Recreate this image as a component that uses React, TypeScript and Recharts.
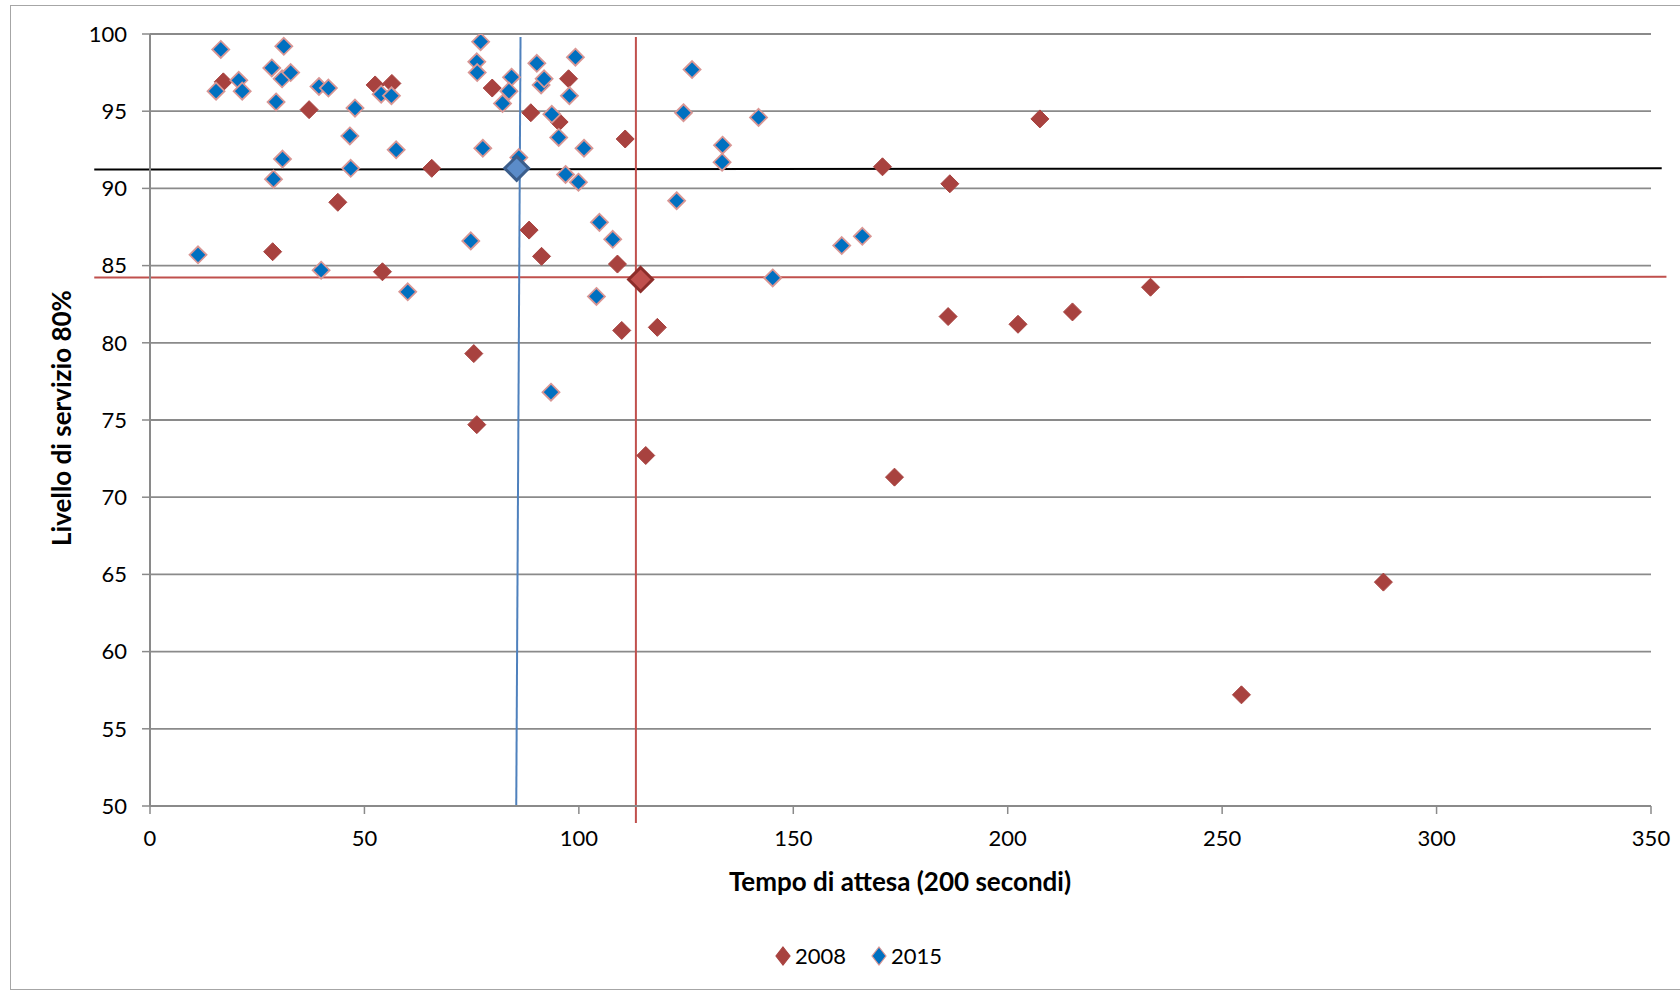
import { ScatterChart, Scatter, XAxis, YAxis, CartesianGrid, ReferenceLine, Label } from 'recharts';

// 2008 – tempo di attesa (x) e livello di servizio (y)
const tempo2008 = [17.1, 37.1, 43.8, 28.6, 52.5, 56.4, 54.2, 65.7, 75.5, 76.2, 79.8, 88.8, 88.4, 91.3, 95.4, 97.6,
  109.0, 110.0, 110.8, 118.3, 115.6, 170.8, 186.5, 207.5, 186.1, 202.4, 215.1, 233.3, 173.6, 287.6, 254.5];
const livello2008 = [96.9, 95.1, 89.1, 85.9, 96.7, 96.8, 84.6, 91.3, 79.3, 74.7, 96.5, 94.9, 87.3, 85.6, 94.3, 97.1,
  85.1, 80.8, 93.2, 81.0, 72.7, 91.4, 90.3, 94.5, 81.7, 81.2, 82.0, 83.6, 71.3, 64.5, 57.2];

// 2015
const tempo2015 = [16.5, 31.2, 20.7, 15.4, 21.5, 28.4, 30.8, 32.8, 29.4, 39.4, 41.6, 47.8, 46.6, 30.9, 28.8, 46.8,
  57.4, 53.9, 56.3, 77.1, 76.2, 76.3, 84.3, 83.7, 82.2, 90.2, 91.2, 91.9, 99.2, 97.8, 93.7, 95.3, 101.2, 77.6,
  86.0, 96.9, 99.9, 126.4, 124.4, 141.9, 133.5, 133.4, 122.8, 104.8, 107.9, 74.8, 104.1, 145.2, 60.1, 11.2,
  39.9, 93.5, 161.3, 166.1];
const livello2015 = [99.0, 99.2, 97.0, 96.3, 96.3, 97.8, 97.1, 97.5, 95.6, 96.6, 96.5, 95.2, 93.4, 91.9, 90.6, 91.3,
  92.5, 96.1, 96.0, 99.5, 98.2, 97.5, 97.2, 96.3, 95.5, 98.1, 96.7, 97.1, 98.5, 96.0, 94.8, 93.3, 92.6, 92.6,
  92.0, 90.9, 90.4, 97.7, 94.9, 94.6, 92.8, 91.7, 89.2, 87.8, 86.7, 86.6, 83.0, 84.2, 83.3, 85.7,
  84.7, 76.8, 86.3, 86.9];

// medie
const media2008 = [{ x: 114.4, y: 84.1 }];
const media2015 = [{ x: 85.5, y: 91.3 }];

const xTicks = [0, 50, 100, 150, 200, 250, 300, 350];
const yTicks = [50, 55, 60, 65, 70, 75, 80, 85, 90, 95, 100];

const data2008 = tempo2008.map((x, i) => ({ x, y: livello2008[i] }));
const data2015 = tempo2015.map((x, i) => ({ x, y: livello2015[i] }));

const FONT = 'Lato, "Open Sans", sans-serif';
const GRID = '#8a8a8a';

const diamond = (fill: string, stroke: string, r: number, sw: number) => (props: any) => {
  const { cx, cy } = props;
  if (cx == null || cy == null) return <g />;
  return (
    <polygon
      points={`${cx},${cy - r} ${cx + r},${cy} ${cx},${cy + r} ${cx - r},${cy}`}
      fill={fill}
      stroke={stroke}
      strokeWidth={sw}
    />
  );
};

const LegendIcon = ({ fill, stroke }: { fill: string; stroke: string }) => (
  <svg width={18} height={22} style={{ marginRight: 3 }}>
    <polygon points="9,2 16,11 9,20 2,11" fill={fill} stroke={stroke} strokeWidth={1.2} />
  </svg>
);

export default function App() {
  return (
    <div style={{ position: 'absolute', left: 0, top: 0, width: 1680, height: 991, overflow: 'hidden', background: '#fff' }}>
      <div style={{ position: 'absolute', left: 10, top: 5, width: 1720, height: 983, border: '1px solid #a6a6a6' }} />
      <div style={{ position: 'absolute', left: 0, top: 0 }}>
        <ScatterChart width={1680} height={991} margin={{ top: 34, right: 29, left: 0, bottom: 0 }}>
          <CartesianGrid vertical={false} stroke={GRID} strokeWidth={1.8} />
          <XAxis
            type="number"
            dataKey="x"
            domain={[0, 350]}
            ticks={xTicks}
            interval={0}
            height={185}
            tickSize={8}
            tickMargin={16}
            axisLine={{ stroke: GRID, strokeWidth: 2 }}
            tickLine={{ stroke: GRID, strokeWidth: 1.5 }}
            tick={{ fill: '#000', fontSize: 22, fontFamily: FONT }}
            allowDataOverflow
          >
            <Label
              content={() => (
                <text x={900} y={881} textAnchor="middle" dominantBaseline="central" fontFamily={FONT} fontSize={26} fontWeight="bold" fill="#000">
                  Tempo di attesa (200 secondi)
                </text>
              )}
            />
          </XAxis>
          <YAxis
            type="number"
            dataKey="y"
            domain={[50, 100]}
            ticks={yTicks}
            interval={0}
            width={150}
            tickSize={8}
            tickMargin={15}
            axisLine={{ stroke: GRID, strokeWidth: 2 }}
            tickLine={{ stroke: GRID, strokeWidth: 1.5 }}
            tick={{ fill: '#000', fontSize: 22, fontFamily: FONT }}
            allowDataOverflow
          >
            <Label
              content={() => (
                <text x={61} y={418} transform="rotate(-90 61 418)" textAnchor="middle" dominantBaseline="central" fontFamily={FONT} fontSize={26} fontWeight="bold" fill="#000">
                  Livello di servizio 80%
                </text>
              )}
            />
          </YAxis>
          <Scatter name="2008" data={data2008} shape={diamond('#A8423F', '#A8423F', 9, 1)} isAnimationActive={false} />
          <Scatter name="2015" data={data2015} shape={diamond('#0070C0', '#D99694', 8.5, 1.8)} isAnimationActive={false} />
          <ReferenceLine segment={[{ x: -13, y: 91.22 }, { x: 352.5, y: 91.3 }]} stroke="#000" strokeWidth={2} ifOverflow="visible" />
          <ReferenceLine segment={[{ x: -13, y: 84.23 }, { x: 353.6, y: 84.27 }]} stroke="#C0504D" strokeWidth={2} ifOverflow="visible" />
          <ReferenceLine segment={[{ x: 86.4, y: 99.8 }, { x: 85.4, y: 50 }]} stroke="#4F81BD" strokeWidth={2} ifOverflow="visible" />
          <ReferenceLine segment={[{ x: 113.3, y: 99.8 }, { x: 113.3, y: 48.9 }]} stroke="#C0504D" strokeWidth={2} ifOverflow="visible" />
          <Scatter name="media 2015" data={media2015} shape={diamond('#5B8CC9', '#3B5E8C', 12, 3)} legendType="none" isAnimationActive={false} />
          <Scatter name="media 2008" data={media2008} shape={diamond('#C0504D', '#8C2D2A', 12, 3)} legendType="none" isAnimationActive={false} />
        </ScatterChart>
      </div>
      <div style={{ position: 'absolute', left: 774, top: 942, display: 'flex', alignItems: 'center', fontFamily: FONT, fontSize: 22, color: '#000' }}>
        <LegendIcon fill="#A8423F" stroke="#A8423F" />
        <span style={{ marginRight: 24 }}>2008</span>
        <LegendIcon fill="#0070C0" stroke="#D99694" />
        <span>2015</span>
      </div>
    </div>
  );
}
